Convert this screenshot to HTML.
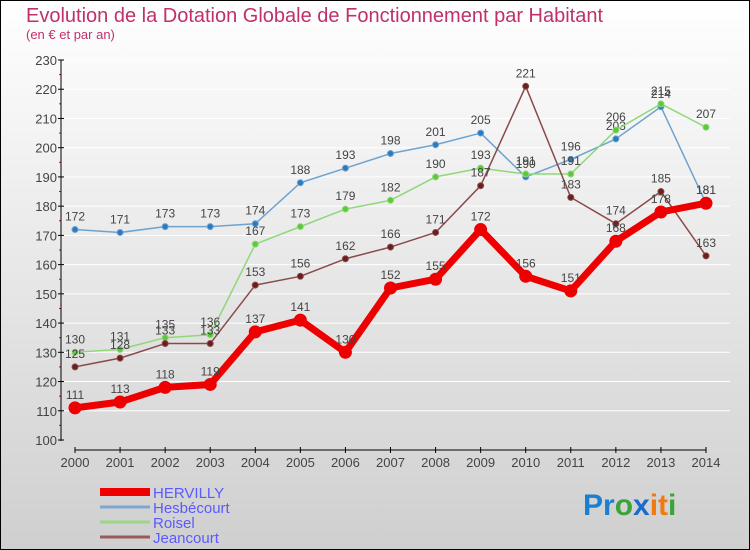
<!DOCTYPE html>
<html><head><meta charset="utf-8">
<style>
body{margin:0;padding:0;}
#wrap{width:750px;height:550px;position:relative;overflow:hidden;font-family:"Liberation Sans",sans-serif;}
svg text{font-family:"Liberation Sans",sans-serif;}
</style></head>
<body>
<div id="wrap">
<svg id="chart" width="750" height="550" xmlns="http://www.w3.org/2000/svg">
<defs>
<linearGradient id="bg" x1="0" y1="0" x2="0" y2="1">
<stop offset="0" stop-color="#ffffff"/><stop offset="1" stop-color="#cfcfcf"/>
</linearGradient>
</defs>
<rect x="0.5" y="0.5" width="749" height="549" fill="url(#bg)" stroke="#000"/>
<text x="26" y="22" font-size="20" fill="#c0306a">Evolution de la Dotation Globale de Fonctionnement par Habitant</text>
<text x="26" y="39" font-size="13" fill="#c0306a">(en € et par an)</text>
<g id="grid"></g>
<g id="axes"></g>
<g id="series"></g>
<g id="legend"></g>
<text x="583" y="515" font-size="30" font-weight="bold"><tspan fill="#1a7fd0">Pr</tspan><tspan fill="#3aa33a">o</tspan><tspan fill="#1a6ad0">x</tspan><tspan fill="#f07a10">it</tspan><tspan fill="#3aa33a">i</tspan></text>
</svg>
</div>
<script>
const years = [2000,2001,2002,2003,2004,2005,2006,2007,2008,2009,2010,2011,2012,2013,2014];
const yTicks = [100,110,120,130,140,150,160,170,180,190,200,210,220,230];
const hervilly = [111,113,118,119,137,141,130,152,155,172,156,151,168,178,181];
const hesbecourt = [172,171,173,173,174,188,193,198,201,205,190,196,203,214,181];
const roisel = [130,131,135,136,167,173,179,182,190,193,191,191,206,215,207];
const jeancourt = [125,128,133,133,153,156,162,166,171,187,221,183,174,185,163];

const NS="http://www.w3.org/2000/svg";
function xs(i){return 75+i*(706-75)/(years.length-1);}
function ys(v){return 440-(v-100)*(380/130);}
function mk(tag,attrs,parent){const e=document.createElementNS(NS,tag);for(const k in attrs)e.setAttribute(k,attrs[k]);parent.appendChild(e);return e;}
const grid=document.getElementById('grid'),axes=document.getElementById('axes'),ser=document.getElementById('series'),leg=document.getElementById('legend');

yTicks.forEach(t=>{
  if(t>100){const g=mk('line',{x1:62,x2:730,y1:ys(t),y2:ys(t),stroke:'#ffffff','stroke-width':1},grid);
  
  }
  const tk=mk('line',{x1:58,x2:64,y1:ys(t),y2:ys(t),stroke:'#000'},axes);
  
  
  if(t<230){const m=mk('line',{x1:59,x2:61,y1:ys(t+5),y2:ys(t+5),stroke:'#e00'},axes);
  
  }
  const l=mk('text',{x:57,y:ys(t)+5,'font-size':13,fill:'#444','text-anchor':'end'},axes);
  l.textContent=t;
  
  
});
const ya=mk('line',{x1:61,x2:61,y1:60,y2:441,stroke:'#000'},axes);


const xa=mk('line',{x1:75,x2:706,y1:450,y2:450,stroke:'#000'},axes);


years.forEach((y,i)=>{
  const tk=mk('line',{x1:xs(i),x2:xs(i),y1:447,y2:453,stroke:'#000'},axes);
  
  
  const l=mk('text',{x:xs(i),y:467,'font-size':13,fill:'#444','text-anchor':'middle'},axes);
  l.textContent=y;
  
  
});

function drawSeries(name,data,color,dot,width,r,fs){
  const g=mk('g',{},ser);
  
  
  const pts=data.map((v,i)=>xs(i)+','+ys(v)).join(' ');
  const pl=mk('polyline',{points:pts,fill:'none',stroke:color,'stroke-width':width,'stroke-linejoin':'round'},g);
  
  
  data.forEach((v,i)=>{
    const c=mk('circle',{cx:xs(i),cy:ys(v),r:r,fill:dot,stroke:color,'stroke-width':1},g);
    
    
    const t=mk('text',{x:xs(i),y:ys(v)-9,'font-size':fs,fill:'#444','text-anchor':'middle'},g);
    t.textContent=v;
    
    
  });
}
drawSeries('hesbecourt',hesbecourt,'#6fa3cf','#2a7ac0',1.5,3,12);
drawSeries('roisel',roisel,'#8fd87a','#5cc83a',1.5,3,12);
drawSeries('jeancourt',jeancourt,'#8a4a4a','#6a1f1f',1.5,3,12);
drawSeries('hervilly',hervilly,'#ee0000','#ee0000',7,6,12);

const legItems=[['HERVILLY','#ee0000',8],['Hesbécourt','#7aa8d0',3],['Roisel','#9ad888',3],['Jeancourt','#9a5a5a',3]];
legItems.forEach((it,i)=>{
  const y=492+i*15;
  const g=mk('g',{},leg);
  
  
  const l=mk('line',{x1:100,x2:150,y1:y,y2:y,stroke:it[1],'stroke-width':it[2]},g);
  
  
  const t=mk('text',{x:153,y:y+6,'font-size':15,fill:'#5a5aff'},g);
  t.textContent=it[0];
  
  
});
</script>
</body></html>
